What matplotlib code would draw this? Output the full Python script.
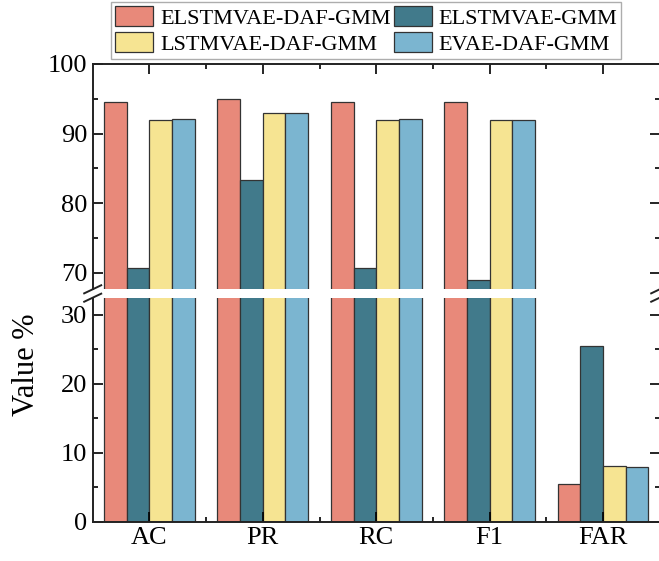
import numpy as np
import matplotlib.pyplot as plt
from matplotlib.patches import Patch

plt.rcParams['font.family'] = ['Liberation Serif', 'DejaVu Serif']

# metric groups and the four compared models
metrics = ['AC', 'PR', 'RC', 'F1', 'FAR']
models = ['ELSTMVAE-DAF-GMM', 'ELSTMVAE-GMM', 'LSTMVAE-DAF-GMM', 'EVAE-DAF-GMM']
elstmvae_daf_gmm = [94.6, 94.9, 94.6, 94.6, 5.5]
elstmvae_gmm = [70.6, 83.3, 70.6, 68.9, 25.5]
lstmvae_daf_gmm = [92.0, 92.9, 92.0, 91.9, 8.1]
evae_daf_gmm = [92.1, 92.9, 92.1, 92.0, 7.9]
series = [elstmvae_daf_gmm, elstmvae_gmm, lstmvae_daf_gmm, evae_daf_gmm]
colors = ['#E8897A', '#417A8B', '#F6E492', '#7BB5D0']

upper_ticks = [70, 80, 90, 100]
lower_ticks = [0, 10, 20, 30]

W, H = 659, 561
fig = plt.figure(figsize=(W / 100, H / 100), dpi=100)
left, right = 92.7 / W, 659.7 / W
ax_top = fig.add_axes([left, 1 - 289.3 / H, right - left, (289.3 - 64) / H])
ax_bot = fig.add_axes([left, 1 - 521.7 / H, right - left, (521.7 - 297.7) / H])

x = np.arange(len(metrics))
bw = 0.2
offsets = [-0.3, -0.1, 0.1, 0.3]
for ax in (ax_top, ax_bot):
    for vals, off, c in zip(series, offsets, colors):
        ax.bar(x + off, vals, bw, color=c, edgecolor='#333333', linewidth=0.9)
    ax.set_xlim(-0.5, 4.5)
    for s in ax.spines.values():
        s.set_linewidth(1.4)
        s.set_color('#222222')
    ax.set_xticks(x)
    ax.set_xticks(x[:-1] + 0.5, minor=True)
    ax.tick_params(axis='both', which='major', direction='in', length=7, width=1.2,
                   labelsize=19, pad=4, left=True, right=True)
    ax.tick_params(axis='both', which='minor', direction='in', length=3.5, width=1.2,
                   left=True, right=True)

ax_top.set_ylim(67.6, 100)
ax_top.set_yticks(upper_ticks)
ax_top.set_yticks(np.arange(75, 100, 10), minor=True)
ax_top.spines['bottom'].set_visible(False)
ax_top.tick_params(axis='x', which='both', bottom=False, top=True, labelbottom=False)

ax_bot.set_ylim(0, 32.5)
ax_bot.set_yticks(lower_ticks)
ax_bot.set_yticks(np.arange(5, 35, 10), minor=True)
ax_bot.spines['top'].set_visible(False)
ax_bot.tick_params(axis='x', which='both', bottom=True, top=False)
ax_bot.set_xticklabels(metrics)

# break marks on both spines
dx, dy = 0.015, 0.018
for ax, yb in ((ax_top, 0), (ax_bot, 1)):
    for xb in (0, 1):
        ax.plot([xb - dx, xb + dx], [yb - dy, yb + dy], transform=ax.transAxes,
                color='#222222', lw=1.4, clip_on=False)

fig.text(26 / W, 1 - 365 / H, 'Value %', rotation=90, ha='center', va='center',
         fontsize=22)

order = [0, 2, 1, 3]
handles = [Patch(facecolor=colors[i], edgecolor='#333333', lw=0.9, label=models[i])
           for i in order]
leg = fig.legend(handles=handles, ncol=2, loc='upper left',
                 bbox_to_anchor=(111 / W, 1 - 2 / H), borderaxespad=0,
                 fontsize=16, frameon=True, fancybox=False, edgecolor='#999999',
                 handlelength=1.7, handleheight=1.0, handletextpad=0.3,
                 columnspacing=0.15, labelspacing=0.15, borderpad=0.2)
leg.get_frame().set_linewidth(1.0)

fig.savefig('out.png', dpi=100)
